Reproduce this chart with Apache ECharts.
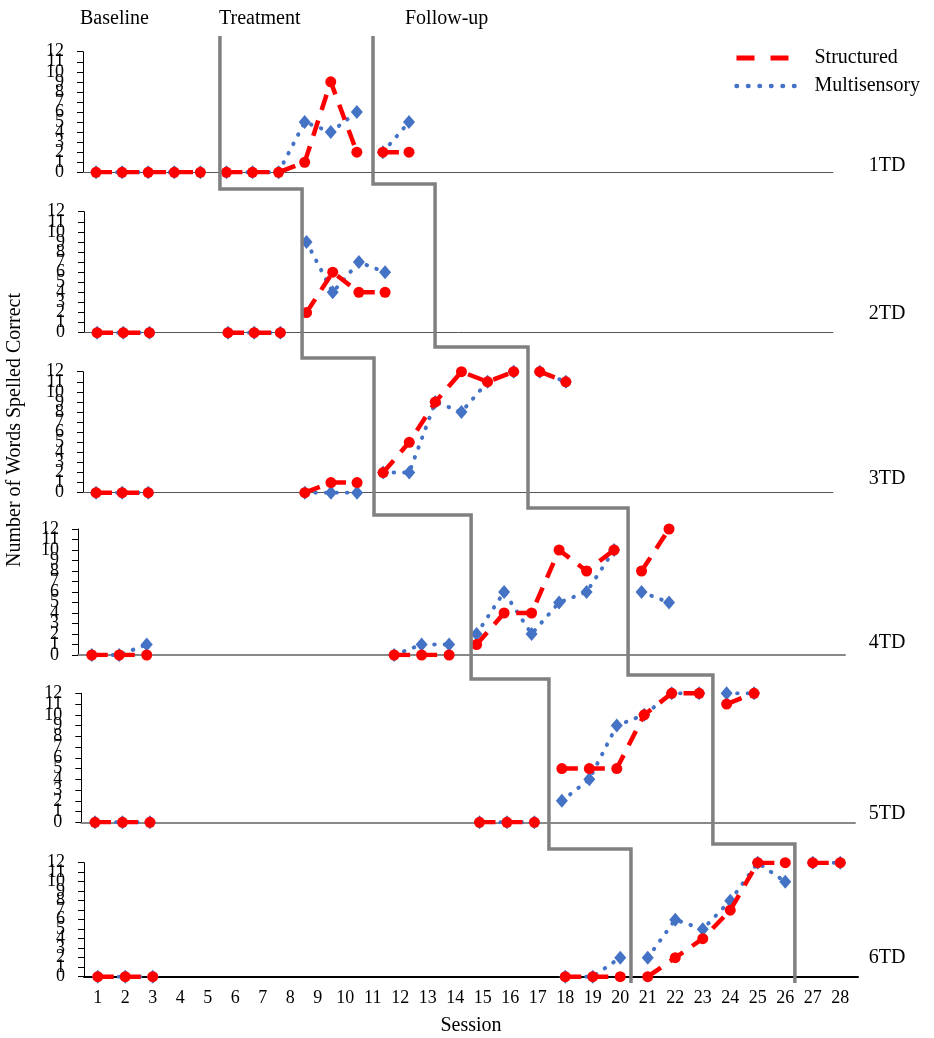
<!DOCTYPE html>
<html><head><meta charset="utf-8">
<script src="https://cdn.jsdelivr.net/npm/echarts@6/dist/echarts.min.js"></script>
<style>html,body{margin:0;padding:0;background:#fff}#c{width:934px;height:1038px}</style>
</head><body><div id="c"></div>
<script>
// ---- data ----
const sessions = [1,2,3,4,5,6,7,8,9,10,11,12,13,14,15,16,17,18,19,20,21,22,23,24,25,26,27,28];
const sessionLabels = ['1','2','3','4','5','6','7','8','9','10','11','12','13','14','15','16','17','18','19','20','21','22','23','24','25','26','27','28'];
const participants = ['1TD','2TD','3TD','4TD','5TD','6TD'];
const phaseNames = ['Baseline','Treatment','Follow-up'];
const seriesNames = ['Structured','Multisensory'];
const _ = null;
//                 1  2  3  4  5  6  7  8  9 10 11 12 13 14 15 16 17 18 19 20 21 22 23 24 25 26 27 28
const structured1 = [0, 0, 0, 0, 0, 0, 0, 0, 1, 9, 2, 2, 2, _, _, _, _, _, _, _, _, _, _, _, _, _, _, _];
const multisens1  = [0, 0, 0, 0, 0, 0, 0, 0, 5, 4, 6, 2, 5, _, _, _, _, _, _, _, _, _, _, _, _, _, _, _];
const structured2 = [0, 0, 0, _, _, 0, 0, 0, 2, 6, 4, 4, _, _, _, _, _, _, _, _, _, _, _, _, _, _, _, _];
const multisens2  = [0, 0, 0, _, _, 0, 0, 0, 9, 4, 7, 6, _, _, _, _, _, _, _, _, _, _, _, _, _, _, _, _];
const structured3 = [0, 0, 0, _, _, _, _, _, 0, 1, 1, 2, 5, 9,12,11,12,12,11, _, _, _, _, _, _, _, _, _];
const multisens3  = [0, 0, 0, _, _, _, _, _, 0, 0, 0, 2, 2, 9, 8,11,12,12,11, _, _, _, _, _, _, _, _, _];
const structured4 = [0, 0, 0, _, _, _, _, _, _, _, _, 0, 0, 0, 1, 4, 4,10, 8,10, 8,12, _, _, _, _, _, _];
const multisens4  = [0, 0, 1, _, _, _, _, _, _, _, _, 0, 1, 1, 2, 6, 2, 5, 6,10, 6, 5, _, _, _, _, _, _];
const structured5 = [0, 0, 0, _, _, _, _, _, _, _, _, _, _, _, 0, 0, 0, 5, 5, 5,10,12,12,11,12, _, _, _];
const multisens5  = [0, 0, 0, _, _, _, _, _, _, _, _, _, _, _, 0, 0, 0, 2, 4, 9,10,12,12,12,12, _, _, _];
const structured6 = [0, 0, 0, _, _, _, _, _, _, _, _, _, _, _, _, _, _, 0, 0, 0, 0, 2, 4, 7,12,12,12,12];
const multisens6  = [0, 0, 0, _, _, _, _, _, _, _, _, _, _, _, _, _, _, 0, 0, 2, 2, 6, 5, 8,12,10,12,12];
const structuredAll = [structured1, structured2, structured3, structured4, structured5, structured6];
const multisensAll  = [multisens1, multisens2, multisens3, multisens4, multisens5, multisens6];
const treatStart  = [6, 9, 12, 15, 18, 21];
const followStart = [12, 14, 18, 21, 24, 27];
// phase-change line positions (session units, per panel) as drawn in the figure
const lineA = [5.75, 8.83, 11.65, 14.8, 17.53, 20.39];
const lineB = [11.62, 13.91, 17.55, 20.51, 23.5, 26.35];
const yTicksEven = [0,2,4,6,8,10,12];
const yTicksOdd = [1,3,5,7,9,11];

// ---- layout ----
const layout = [
  {left:83, top:51.7, width:750, height:120.6, spacing:26.08, axis:'#555', aw:1},
  {left:84, top:211.7, width:749, height:121, spacing:26.18, axis:'#555', aw:1},
  {left:83, top:371.7, width:750, height:121, spacing:26.1, axis:'#555', aw:1},
  {left:78, top:529, width:767, height:126, spacing:27.49, axis:'#888', aw:2},
  {left:81.3, top:693.3, width:773.7, height:129, spacing:27.46, axis:'#888', aw:2},
  {left:84, top:862.7, width:774, height:114, spacing:27.5, axis:'#000', aw:2}
];
const dropA = [-1.66, -2.5, -2.2, -2.29, -2.48, -0.66];
const dropB = [-1.16, -1.42, -1.52, -1.9, -2.02, -0.66];
const topLine = 13.56;
const FONT = 'Liberation Serif';
const redLine = {color:'#FF0000', width:4.5, type:[16,11]};
const blueLine = {color:'#4472C4', width:4, type:[0.5,10], cap:'round'};

const grids = [], xAxes = [], yAxes = [], series = [];
layout.forEach((L, p) => {
  grids.push({left:L.left, top:L.top, width:L.width, height:L.height, containLabel:false});
  const last = p === layout.length - 1;
  xAxes.push({
    type:'value', gridIndex:p, min:0.5, max:0.5 + L.width / L.spacing,
    splitLine:{show:false}, axisTick:{show:false},
    axisLine:{show:true, onZero:false, lineStyle:{color:L.axis, width:L.aw}},
    axisLabel: last ? {show:true, customValues:sessions, formatter:v => sessionLabels[sessions.indexOf(v)] || '',
      fontFamily:FONT, fontSize:18, color:'#000', margin:13} : {show:false},
    name: last ? 'Session' : '', nameLocation:'middle', nameGap:39,
    nameTextStyle:{fontFamily:FONT, fontSize:20, color:'#000'}
  });
  const labelBase = {show:true, showMinLabel:true, showMaxLabel:true, hideOverlap:false,
    fontFamily:FONT, fontSize:18, color:'#000', margin:19};
  yAxes.push({
    type:'value', gridIndex:p, position:'left', min:0, max:12, interval:1,
    splitLine:{show:false},
    axisLine:{show:true, lineStyle:{color:'#000', width:1}},
    axisTick:{show:true, length:6, lineStyle:{color:'#000', width:1}},
    axisLabel:Object.assign({customValues:yTicksEven, formatter:v => String(v)}, labelBase)
  });
  yAxes.push({
    type:'value', gridIndex:p, position:'left', offset:0, min:0, max:12, interval:1,
    splitLine:{show:false}, axisLine:{show:false}, axisTick:{show:false},
    axisLabel:Object.assign({customValues:yTicksOdd, formatter:v => String(v)}, labelBase)
  });
  const ranges = [[1, treatStart[p]-1],[treatStart[p], followStart[p]-1],[followStart[p], 28]];
  [[multisensAll[p], 1],[structuredAll[p], 0]].forEach(([vals, m]) => {
    ranges.forEach(([a, b]) => {
      const d = sessions.filter(s => s >= a && s <= b).map(s => [s, vals[s-1] == null ? '-' : vals[s-1]]);
      if (!d.some(v => v[1] !== '-')) return;
      const isS = m === 0;
      series.push({
        name: seriesNames[m], type:'line', xAxisIndex:p, yAxisIndex:2*p, data:d,
        connectNulls:false, animation:false, silent:true,
        symbol: isS ? 'circle' : 'diamond', symbolSize: isS ? 11 : [12,14],
        itemStyle:{color: isS ? '#FF0000' : '#4472C4'},
        lineStyle: isS ? redLine : blueLine,
        z: isS ? 4 : 3, emphasis:{disabled:true}
      });
    });
  });
});

const chart = echarts.init(document.getElementById('c'));
chart.setOption({
  animation:false, backgroundColor:'#fff',
  grid:grids, xAxis:xAxes, yAxis:yAxes, series:series,
  legend:{data:[
      {name:seriesNames[0], lineStyle:{color:'#FF0000', width:5, type:[18,16]}},
      {name:seriesNames[1], lineStyle:{color:'#4472C4', width:4.5, type:[0.5,11], cap:'round'}}
    ], orient:'vertical', left:729, top:43, itemWidth:60, itemHeight:20, itemGap:8,
    itemStyle:{opacity:0}, selectedMode:false,
    textStyle:{fontFamily:FONT, fontSize:20, color:'#000', padding:[0,0,0,13]}}
});

function px(p, x, y){ return chart.convertToPixel({gridIndex:p}, [x, y]); }
function stepLine(pos, drops){
  const pts = [];
  for (let k = 0; k < pos.length; k++){
    const x = px(k, pos[k], 0)[0];
    const y0 = k === 0 ? px(0, 0, topLine)[1] : px(k-1, 0, drops[k-1])[1];
    const y1 = px(k, 0, drops[k])[1];
    pts.push([x, y0], [x, y1]);
  }
  return pts;
}
const g = [];
g.push({type:'polyline', z:100, shape:{points:stepLine(lineA, dropA)}, style:{stroke:'#808080', lineWidth:3.5, fill:null}});
g.push({type:'polyline', z:100, shape:{points:stepLine(lineB, dropB)}, style:{stroke:'#808080', lineWidth:3.5, fill:null}});
const phaseX = [80, 219, 405];
phaseNames.forEach((t, i) => g.push({type:'text', z:100, x:phaseX[i], y:19,
  style:{text:t, fontFamily:FONT, fontSize:20, fill:'#000', textAlign:'left', textVerticalAlign:'middle'}}));
const tdY = [166, 314, 479, 643, 814, 958];
participants.forEach((t, i) => g.push({type:'text', z:100, x:887, y:tdY[i],
  style:{text:t, fontFamily:FONT, fontSize:20, fill:'#000', textAlign:'center', textVerticalAlign:'middle'}}));
g.push({type:'text', z:100, x:15, y:430, rotation:Math.PI/2,
  style:{text:'Number of Words Spelled Correct', fontFamily:FONT, fontSize:20, fill:'#000', textAlign:'center', textVerticalAlign:'middle'}});
chart.setOption({graphic:g});
</script></body></html>
